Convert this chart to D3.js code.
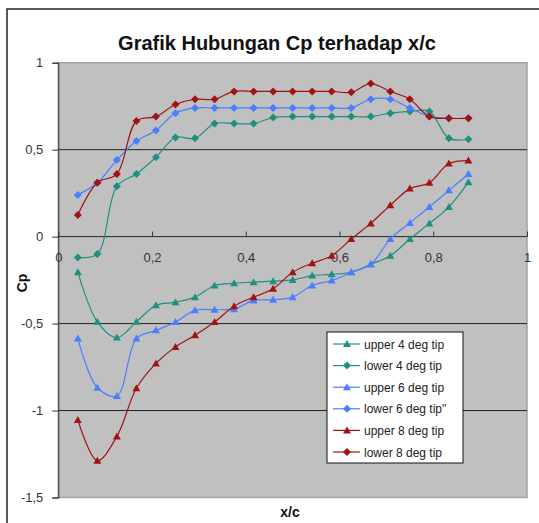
<!DOCTYPE html>
<html><head><meta charset="utf-8">
<script src="https://cdn.jsdelivr.net/npm/d3@7"></script>
<style>body{margin:0;background:#fff}svg{display:block}</style>
</head><body><svg id="c" width="539" height="523"></svg>
<script>
const xc = [1,2,3,4,5,6,7,8,9,10,11,12,13,14,15,16,17,18,19,20,21].map(k => k/24);
const upper4 = [-0.205,-0.49,-0.58,-0.49,-0.395,-0.377,-0.348,-0.281,-0.268,-0.262,-0.256,-0.249,-0.224,-0.217,-0.205,-0.159,-0.11,-0.014,0.076,0.17,0.313];
const lower4 = [-0.12,-0.10,0.29,0.36,0.456,0.57,0.565,0.65,0.65,0.65,0.685,0.69,0.69,0.69,0.69,0.69,0.71,0.72,0.72,0.565,0.56];
const upper6 = [-0.586,-0.869,-0.916,-0.586,-0.539,-0.491,-0.424,-0.42,-0.417,-0.367,-0.363,-0.348,-0.281,-0.253,-0.205,-0.159,-0.014,0.079,0.17,0.266,0.36];
const lower6 = [0.24,0.31,0.44,0.55,0.61,0.71,0.74,0.74,0.74,0.74,0.74,0.74,0.74,0.74,0.74,0.79,0.79,0.74,0.69,0.68,0.68];
const upper8 = [-1.054,-1.288,-1.149,-0.872,-0.729,-0.634,-0.567,-0.491,-0.40,-0.348,-0.30,-0.205,-0.153,-0.11,-0.014,0.076,0.18,0.276,0.31,0.42,0.437];
const lower8 = [0.125,0.31,0.36,0.665,0.69,0.76,0.79,0.79,0.835,0.835,0.835,0.835,0.835,0.835,0.83,0.88,0.835,0.79,0.69,0.68,0.68];
const seriesNames = ["upper 4 deg tip","lower 4 deg tip","upper 6 deg tip","lower 6 deg tip\"","upper 8 deg tip","lower 8 deg tip"];
const xTicks = [0,0.2,0.4,0.6,0.8,1];
const xTickLabels = ["0","0,2","0,4","0,6","0,8","1"];
const yTicks = [1,0.5,0,-0.5,-1,-1.5];
const yTickLabels = ["1","0,5","0","-0,5","-1","-1,5"];

const colors = ["#1f9080","#1f9080","#4a7dff","#4a7dff","#a01414","#a01414"];
const markers = ["tri","dia","tri","dia","tri","dia"];
const data = [upper4, lower4, upper6, lower6, upper8, lower8];

const svg = d3.select("#c");
const font = "'Liberation Sans', Arial, sans-serif";
const L = 58.3, R = 527, T = 62.7, B = 497.5;
const x = d3.scaleLinear().domain([0,1]).range([L,R]);
const y = d3.scaleLinear().domain([-1.5,1]).range([B,T]);

svg.append("path").attr("d","M7,540 L7,9 L545,9").attr("fill","none").attr("stroke","#222").attr("stroke-width",1.5);

svg.append("text").attr("x",277).attr("y",50).attr("text-anchor","middle")
  .attr("font-family",font).attr("font-weight","bold").attr("font-size",20).attr("fill","#111")
  .text("Grafik Hubungan Cp terhadap x/c");

svg.append("rect").attr("x",L).attr("y",T).attr("width",R-L).attr("height",B-T)
  .attr("fill","#c0c0c0").attr("stroke","#a2a2a2").attr("stroke-width",1.5);

svg.append("g").selectAll("line").data(yTicks.filter(v => v > -1.5 && v < 1)).join("line")
  .attr("x1",L).attr("x2",R).attr("y1",d=>y(d)).attr("y2",d=>y(d))
  .attr("stroke","#222").attr("stroke-width",1);

const yAxis = d3.axisLeft(y).tickValues(yTicks).tickSize(6).tickPadding(9)
  .tickFormat((d,i)=>yTickLabels[i]);
const gy = svg.append("g").attr("transform",`translate(${L},0)`).call(yAxis);
gy.select(".domain").attr("stroke","#333");
gy.selectAll(".tick line").attr("stroke","#333");
gy.selectAll("text").attr("font-family",font).attr("font-size",13).attr("fill","#333");

const xAxis = d3.axisBottom(x).tickValues(xTicks).tickSize(0).tickPadding(16)
  .tickFormat((d,i)=>xTickLabels[i]);
const gx = svg.append("g").attr("transform",`translate(0,${y(0)})`).call(xAxis);
gx.select(".domain").remove();
gx.selectAll(".tick").append("line").attr("y1",-5).attr("y2",0).attr("stroke","#333");
gx.selectAll("text").attr("font-family",font).attr("font-size",13).attr("fill","#333");

svg.append("text").attr("x",290).attr("y",517).attr("text-anchor","middle")
  .attr("font-family",font).attr("font-weight","bold").attr("font-size",14).attr("fill","#111").text("x/c");
svg.append("text").attr("transform","translate(27,283) rotate(-90)").attr("text-anchor","middle")
  .attr("font-family",font).attr("font-weight","bold").attr("font-size",14).attr("fill","#111").text("Cp");

const line = d3.line().x(d=>x(d[0])).y(d=>y(d[1])).curve(d3.curveCatmullRom.alpha(0.5));
function marker(g, type, cx, cy, col){
  if(type==="tri"){
    g.append("path").attr("d",`M${cx},${cy-4} L${cx+4},${cy+3} L${cx-4},${cy+3} Z`).attr("fill",col);
  } else {
    g.append("path").attr("d",`M${cx},${cy-4} L${cx+4},${cy} L${cx},${cy+4} L${cx-4},${cy} Z`).attr("fill",col);
  }
}
const plot = svg.append("g");
data.forEach((vals,i)=>{
  const pts = xc.map((xv,j)=>[xv, vals[j]]);
  plot.append("path").attr("d",line(pts)).attr("fill","none").attr("stroke",colors[i]).attr("stroke-width",1.2);
  const mg = plot.append("g");
  pts.forEach(p=>marker(mg, markers[i], x(p[0]), y(p[1]), colors[i]));
});

const lg = svg.append("g");
lg.append("rect").attr("x",327).attr("y",332).attr("width",136).attr("height",131)
  .attr("fill","#fff").attr("stroke","#111").attr("stroke-width",1);
seriesNames.forEach((n,i)=>{
  const ly = 344 + i*21.6;
  lg.append("line").attr("x1",333).attr("x2",360).attr("y1",ly).attr("y2",ly).attr("stroke",colors[i]).attr("stroke-width",1.2);
  marker(lg, markers[i], 347, ly, colors[i]);
  lg.append("text").attr("x",364).attr("y",ly+4.5).attr("font-family",font).attr("font-size",12).attr("fill","#222").text(n);
});
</script></body></html>
